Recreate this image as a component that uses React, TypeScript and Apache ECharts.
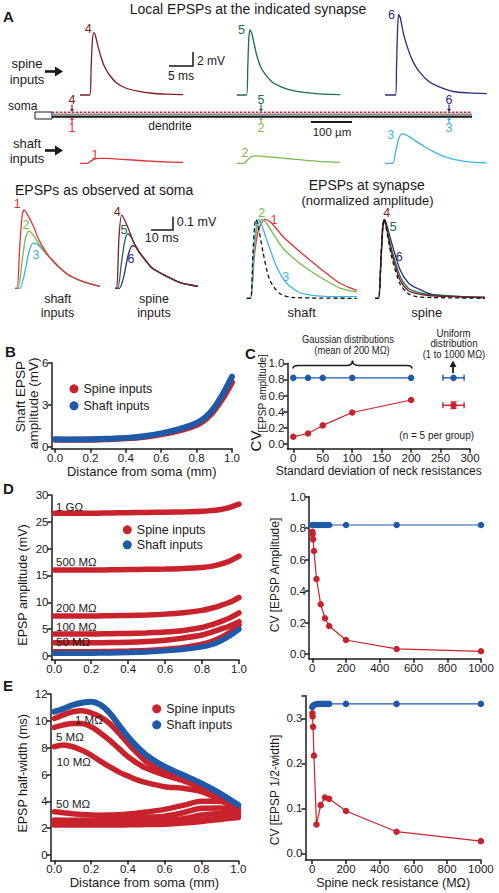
import React, { useEffect, useRef } from 'react';
import * as echarts from 'echarts';

const FONT = '"Liberation Sans", Arial, Helvetica, sans-serif';
const INK = '#1a1a1a';
const RED = '#c8232c';
const BLUE = '#1f5aa8';
const C_DARKRED = '#7d1c22';
const C_DARKGREEN = '#1b6b4c';
const C_NAVY = '#2a2c7c';
const C_RED = '#e2323a';
const C_GREEN = '#7abb4c';
const C_LIGHTBLUE = '#3db3e3';

// ---------- Panel A: local EPSPs at synapse (time ms, mV) ----------
const spine4T = [0, 2.05, 2.3, 2.55, 2.85, 3.2, 3.7, 4.3, 5.0, 6.0, 7.5, 9.5, 12, 15, 18, 21.5];
const spine4V = [0, 0, 3.5, 7.5, 8.9, 8.5, 7.1, 5.6, 4.2, 3.0, 1.8, 1.0, 0.55, 0.25, 0.12, 0.05];
const spine5T = [0, 2.05, 2.3, 2.5, 2.75, 3.1, 3.6, 4.2, 5.0, 6.0, 7.5, 9.5, 12, 15, 18, 21.5];
const spine5V = [0, 0, 3.8, 7.8, 9.3, 8.9, 7.4, 5.6, 4.0, 2.9, 1.8, 1.1, 0.6, 0.3, 0.12, 0.05];
const spine6T = [0, 2.2, 2.4, 2.6, 2.85, 3.2, 3.8, 4.5, 5.2, 6.2, 7.3, 9, 10.8, 14.2, 17.5, 21.2];
const spine6V = [0, 0, 4, 9, 11.5, 11, 8.9, 7.2, 5.8, 4.3, 3.2, 2.0, 1.3, 0.5, 0.3, 0.2];
const shaft1T = [0, 1.6, 2.2, 3.0, 4.0, 5.5, 8, 11, 14, 17, 21.5];
const shaft1V = [0, 0, 0.3, 0.6, 0.7, 0.7, 0.6, 0.47, 0.33, 0.22, 0.12];
const shaft2T = [0, 1.5, 2.2, 3.0, 4.0, 5.5, 8, 11, 14, 17, 21.5];
const shaft2V = [0, 0, 0.45, 0.9, 1.05, 1.0, 0.85, 0.65, 0.45, 0.28, 0.12];
const shaft3T = [0, 1.6, 2.2, 2.8, 3.5, 4.3, 5.3, 6.6, 8.2, 10.1, 12, 13.5, 17, 21.2];
const shaft3V = [0, 0, 1.6, 3.4, 4.2, 4.1, 3.7, 3.1, 2.4, 1.67, 1.05, 0.72, 0.25, 0.05];

// ---------- Panel A: EPSPs at soma (ms, mV) ----------
const soma1T = [0, 1.0, 2.2, 3.2, 4.1, 5.5, 8.3, 11, 15.9, 23.5, 31, 38.6];
const soma1V = [0, 0, 0.33, 0.54, 0.59, 0.56, 0.47, 0.36, 0.23, 0.11, 0.05, 0.015];
const soma2T = [0, 1.4, 3.2, 4.8, 6.4, 8.3, 11, 15.9, 23.5, 31, 38.6];
const soma2V = [0, 0, 0.2, 0.38, 0.43, 0.4, 0.33, 0.23, 0.11, 0.05, 0.015];
const soma3T = [0, 2.2, 4.2, 6.3, 8.3, 10.3, 12.5, 15.9, 23.5, 31, 38.6];
const soma3V = [0, 0, 0.1, 0.27, 0.34, 0.33, 0.29, 0.23, 0.11, 0.05, 0.015];
const soma4T = [0, 0.8, 1.8, 3.0, 4.5, 6.5, 9, 12.9, 17, 23.5, 30, 37.7];
const soma4V = [0, 0, 0.38, 0.55, 0.51, 0.43, 0.33, 0.23, 0.15, 0.09, 0.04, 0.015];
const soma5T = [0, 1.2, 3.0, 4.5, 5.8, 7.5, 9.5, 12.9, 17, 23.5, 30, 37.7];
const soma5V = [0, 0, 0.2, 0.36, 0.41, 0.38, 0.31, 0.23, 0.15, 0.09, 0.04, 0.015];
const soma6T = [0, 2.0, 4.0, 6.0, 7.9, 9.5, 11, 12.9, 17, 23.5, 30, 37.7];
const soma6V = [0, 0, 0.09, 0.25, 0.32, 0.31, 0.27, 0.23, 0.15, 0.09, 0.04, 0.015];

// ---------- Panel A: EPSPs at synapse, normalized ----------
const nDashT = [0, 1.8, 2.8, 3.6, 4.2, 5.2, 7.5, 10.5, 15, 21, 50];
const nDashV = [0, 0, 0.55, 0.92, 1.0, 0.92, 0.57, 0.23, 0.06, 0.01, 0];
const n3T = [0, 1.8, 3.0, 4.3, 5.3, 6.5, 9.1, 13.6, 18.2, 24.2, 32, 40, 50];
const n3V = [0, 0, 0.5, 0.9, 1.0, 0.95, 0.74, 0.4, 0.19, 0.07, 0.03, 0.02, 0.02];
const n2T = [0, 1.8, 3.2, 4.8, 6.8, 9, 12, 16.6, 24.2, 33.3, 42.4, 50];
const n2V = [0, 0, 0.55, 0.9, 1.0, 0.95, 0.82, 0.63, 0.44, 0.27, 0.13, 0.08];
const n1T = [0, 1.8, 3.5, 5.5, 8.3, 11, 16.6, 24.2, 33.3, 42.4, 50];
const n1V = [0, 0, 0.55, 0.88, 1.0, 0.96, 0.78, 0.59, 0.38, 0.19, 0.1];
const nsT = [0, 1.6, 2.7, 3.5, 4.2, 5.0, 7.6, 11.4, 15, 18.9, 26, 50];
const nsDashV = [0, 0, 0.5, 0.9, 1.0, 0.9, 0.52, 0.18, 0.06, 0.02, 0.01, 0];
const ns4V = [0, 0, 0.5, 0.9, 1.0, 0.92, 0.57, 0.23, 0.1, 0.06, 0.03, 0.01];
const ns5V = [0, 0, 0.5, 0.9, 1.0, 0.94, 0.62, 0.28, 0.13, 0.08, 0.04, 0.01];
const ns6V = [0, 0, 0.45, 0.85, 1.0, 0.96, 0.7, 0.36, 0.2, 0.13, 0.05, 0.01];

// ---------- Panel B / D-left: amplitude vs distance ----------
const distAmp = [0, 0.1, 0.2, 0.3, 0.4, 0.5, 0.6, 0.7, 0.8, 0.85, 0.9, 0.95, 1.0];
const shaftAmp = [0.53, 0.52, 0.53, 0.57, 0.63, 0.75, 0.95, 1.25, 1.7, 2.1, 2.8, 3.8, 5.0];
const spineAmpB = [0.5, 0.5, 0.5, 0.54, 0.6, 0.7, 0.88, 1.15, 1.55, 1.95, 2.6, 3.5, 4.6];
const amp1G = [26.6, 26.6, 26.6, 26.65, 26.7, 26.75, 26.8, 26.85, 26.95, 27.1, 27.3, 27.7, 28.3];
const amp500M = [16.0, 16.0, 16.0, 16.05, 16.1, 16.15, 16.2, 16.3, 16.5, 16.7, 17.1, 17.7, 18.6];
const amp200M = [7.45, 7.45, 7.45, 7.5, 7.55, 7.65, 7.8, 8.05, 8.5, 8.9, 9.4, 10.0, 10.9];
const amp100M = [4.1, 4.1, 4.1, 4.15, 4.2, 4.3, 4.45, 4.75, 5.3, 5.8, 6.4, 7.1, 8.05];
const amp50M = [2.45, 2.45, 2.45, 2.5, 2.55, 2.7, 2.95, 3.35, 3.9, 4.4, 5.0, 5.6, 6.4];
const amp10M = [0.8, 0.8, 0.8, 0.85, 0.9, 1.0, 1.25, 1.6, 2.2, 2.7, 3.4, 4.4, 5.8];
const ampLabels = ['1 GΩ', '500 MΩ', '200 MΩ', '100 MΩ', '50 MΩ'];

// ---------- Panel C ----------
const sdValues = [0, 25, 50, 100, 200];
const cvShaftC = [0.82, 0.82, 0.82, 0.82, 0.82];
const cvSpineC = [0.09, 0.13, 0.23, 0.39, 0.545];
const uniformX = 272;
const uniformXErr = 18;
const uniformShaftCV = 0.82;
const uniformSpineCV = 0.48;
const uniformSpineErr = 0.04;

// ---------- Panel D-right / E-right ----------
const neckR = [1, 2, 5, 10, 25, 50, 75, 100, 200, 500, 1000];
const neckRShaft = [0, 6, 20, 36, 52, 69, 85, 100, 200, 500, 1000];
const cvAmpSpine = [0.777, 0.761, 0.729, 0.655, 0.477, 0.316, 0.227, 0.178, 0.089, 0.032, 0.017];
const cvAmpShaft = [0.82, 0.82, 0.82, 0.82, 0.82, 0.82, 0.82, 0.82, 0.82, 0.82, 0.82];
const cvHwSpine = [0.311, 0.304, 0.281, 0.217, 0.064, 0.107, 0.124, 0.121, 0.094, 0.048, 0.027];
const cvHwShaft = [0.325, 0.329, 0.331, 0.332, 0.332, 0.332, 0.332, 0.332, 0.332, 0.332, 0.332];

// ---------- Panel E-left: half-width vs distance ----------
const distHw = [0, 0.05, 0.1, 0.15, 0.2, 0.25, 0.3, 0.35, 0.4, 0.45, 0.5, 0.6, 0.7, 0.8, 0.9, 1.0];
const hwShaft = [10.68, 10.9, 11.18, 11.35, 11.42, 11.2, 10.6, 9.7, 8.82, 8.07, 7.45, 6.58, 5.96, 5.34, 4.6, 3.73];
const hw1M = [10.18, 10.45, 10.68, 10.75, 10.6, 10.3, 9.81, 9.1, 8.32, 7.6, 6.95, 6.2, 5.71, 5.09, 4.34, 3.6];
const hw5M = [9.51, 9.7, 9.81, 9.81, 9.56, 9.1, 8.57, 7.95, 7.33, 6.85, 6.46, 5.96, 5.54, 4.97, 4.22, 3.48];
const hw10M = [8.07, 8.2, 8.07, 7.8, 7.45, 7.0, 6.58, 6.2, 5.89, 5.6, 5.39, 5.09, 4.97, 4.72, 4.1, 3.35];
const hw50M = [3.23, 3.15, 3.08, 3.02, 2.98, 2.97, 2.98, 3.0, 3.05, 3.12, 3.2, 3.4, 3.7, 4.0, 4.0, 3.35];
const hw100M = [2.61, 2.6, 2.6, 2.6, 2.6, 2.62, 2.64, 2.67, 2.73, 2.78, 2.82, 2.9, 3.15, 3.48, 3.5, 3.1];
const hw200M = [2.41, 2.41, 2.41, 2.41, 2.41, 2.42, 2.43, 2.45, 2.47, 2.5, 2.52, 2.56, 2.7, 2.98, 3.1, 3.0];
const hw500M = [2.31, 2.3, 2.3, 2.3, 2.3, 2.3, 2.3, 2.31, 2.32, 2.33, 2.34, 2.36, 2.45, 2.6, 2.75, 2.85];
const hw1G = [2.24, 2.24, 2.24, 2.24, 2.24, 2.24, 2.24, 2.24, 2.25, 2.26, 2.27, 2.3, 2.38, 2.5, 2.65, 2.8];
const hwLabels = ['1 MΩ', '5 MΩ', '10 MΩ', '50 MΩ'];

const BRACE_D = 'M0,4 Q0,1 5,1 L53.5,1 Q59.5,1 59.5,-4 Q59.5,1 65.5,1 L114,1 Q119,1 119,4';

const pairs = (xs: number[], ys: number[]) => xs.map((x, i) => [x, ys[i]]);

function txt(x: number, y: number, text: string, o: any = {}) {
  return {
    type: 'text', x, y, rotation: o.rot || 0, scaleX: o.sx || 1, silent: true, z: 50,
    style: {
      text, fill: o.color || INK, fontSize: o.size || 12, fontFamily: FONT,
      fontWeight: o.weight || 'normal', align: o.align || 'left', verticalAlign: 'middle',
    },
  };
}
function seg(x1: number, y1: number, x2: number, y2: number, color = INK, w = 1.5, dash?: number[]) {
  return { type: 'line', silent: true, z: 40, shape: { x1, y1, x2, y2 }, style: { stroke: color, lineWidth: w, lineDash: dash } };
}
function poly(points: number[][], color = INK) {
  return { type: 'polygon', silent: true, z: 40, shape: { points }, style: { fill: color } };
}

function buildOption() {
  const grids: any[] = [];
  const xAxes: any[] = [];
  const yAxes: any[] = [];
  const series: any[] = [];

  const hiddenGrid = (left: number, baseline: number, pxX: number, pxY: number, xMax: number, yMax: number) => {
    const i = grids.length;
    grids.push({ left, top: baseline - yMax * pxY, width: xMax * pxX, height: yMax * pxY });
    xAxes.push({ type: 'value', gridIndex: i, min: 0, max: xMax, show: false });
    yAxes.push({ type: 'value', gridIndex: i, min: 0, max: yMax, show: false });
    return i;
  };
  const trace = (gi: number, t: number[], v: number[], color: string, dashed = false, w = 1.3) => {
    series.push({
      type: 'line', xAxisIndex: gi, yAxisIndex: gi, data: pairs(t, v), symbol: 'none', smooth: 0.25,
      clip: false, silent: true, z: dashed ? 6 : 4,
      lineStyle: { color: dashed ? '#111' : color, width: w, type: dashed ? [4, 3] : 'solid' },
    });
  };

  // local EPSPs
  const gS4 = hiddenGrid(80, 95, 4.8, 7, 21.5, 12);
  const gS5 = hiddenGrid(236.7, 95, 4.8, 7, 21.5, 12);
  const gS6 = hiddenGrid(385, 95, 4.8, 7, 21.5, 12);
  const gH1 = hiddenGrid(80, 163.3, 4.8, 7, 21.5, 5);
  const gH2 = hiddenGrid(236.7, 163.3, 4.8, 7, 21.5, 5);
  const gH3 = hiddenGrid(385, 163.3, 4.8, 7, 21.5, 5);
  trace(gS4, spine4T, spine4V, C_DARKRED);
  trace(gS5, spine5T, spine5V, C_DARKGREEN);
  trace(gS6, spine6T, spine6V, C_NAVY);
  trace(gH1, shaft1T, shaft1V, C_RED);
  trace(gH2, shaft2T, shaft2V, C_GREEN);
  trace(gH3, shaft3T, shaft3V, C_LIGHTBLUE);
  // soma
  const gSomaH = hiddenGrid(15, 288.3, 2.2, 133, 38.6, 0.7);
  const gSomaS = hiddenGrid(115, 288.3, 2.2, 133, 37.7, 0.7);
  trace(gSomaH, soma3T, soma3V, C_LIGHTBLUE);
  trace(gSomaH, soma2T, soma2V, C_GREEN);
  trace(gSomaH, soma1T, soma1V, C_RED);
  trace(gSomaS, soma6T, soma6V, C_NAVY);
  trace(gSomaS, soma5T, soma5V, C_DARKGREEN);
  trace(gSomaS, soma4T, soma4V, C_DARKRED);
  // normalized
  const gNH = hiddenGrid(246.7, 298.3, 2.2, 79, 50, 1.1);
  const gNS = hiddenGrid(375, 298.3, 2.2, 79, 50.8, 1.1);
  trace(gNH, n1T, n1V, C_RED);
  trace(gNH, n2T, n2V, C_GREEN);
  trace(gNH, n3T, n3V, C_LIGHTBLUE);
  trace(gNH, nDashT, nDashV, INK, true);
  trace(gNS, nsT, ns6V, C_NAVY);
  trace(gNS, nsT, ns5V, C_DARKGREEN);
  trace(gNS, nsT, ns4V, C_DARKRED);
  trace(gNS, nsT, nsDashV, INK, true);

  // data panels
  const nameStyle = (name: string, gap: number, size = 13) => ({
    name, nameLocation: 'middle', nameGap: gap,
    nameTextStyle: { fontSize: size, color: INK, fontFamily: FONT },
  });
  const valAxis = (gi: number, min: number, max: number, ticks: number[], labels: number[], fmt: (v: number) => string, extra: any = {}) => ({
    type: 'value', gridIndex: gi, min, max, splitLine: { show: false },
    axisLine: { show: true, onZero: false, lineStyle: { color: INK, width: 1.5 } },
    axisTick: { show: true, length: 4, customValues: ticks, lineStyle: { color: INK, width: 1.5 } },
    axisLabel: { customValues: labels, formatter: fmt, fontSize: 11.5, color: INK, fontFamily: FONT, margin: 3 },
    ...extra,
  });
  const dataGrid = (left: number, top: number, width: number, height: number) => {
    grids.push({ left, top, width, height });
    return grids.length - 1;
  };
  const f1 = (v: number) => v.toFixed(1);
  const f0 = (v: number) => String(Math.round(v));
  const dist = [0, 0.2, 0.4, 0.6, 0.8, 1];
  const band = (gi: number, name: string, color: string, xs: number[], ys: number[], w: number, z = 3) =>
    series.push({
      type: 'line', name, xAxisIndex: gi, yAxisIndex: gi, data: pairs(xs, ys), symbol: 'none', smooth: 0.3,
      clip: false, silent: true, z, lineStyle: { color, width: w, cap: 'round' }, itemStyle: { color },
    });
  const dotLine = (gi: number, name: string, color: string, xs: number[], ys: number[], z = 3) =>
    series.push({
      type: 'line', name, xAxisIndex: gi, yAxisIndex: gi, data: pairs(xs, ys), symbol: 'circle', symbolSize: 6.5,
      showSymbol: true, clip: false, silent: true, z, lineStyle: { color, width: 1.2 }, itemStyle: { color },
    });

  // B
  const gB = dataGrid(51.5, 362.7, 180.5, 86.1);
  xAxes.push(valAxis(gB, -0.02, 1, dist, dist, f1, nameStyle('Distance from soma (mm)', 16)));
  yAxes.push(valAxis(gB, -0.15, 6, [0, 3, 6], [0, 3, 6], f0));
  band(gB, 'Spine inputs', RED, distAmp, spineAmpB, 6);
  band(gB, 'Shaft inputs', BLUE, distAmp, shaftAmp, 6, 4);

  // C
  const gC = dataGrid(287.4, 363.3, 182.6, 85.5);
  const cx = [0, 50, 100, 150, 200, 250, 300];
  const cy = [0, 0.2, 0.4, 0.6, 0.8, 1];
  xAxes.push(valAxis(gC, -10, 300, cx, cx, f0, nameStyle('Standard deviation of neck resistances', 16, 12)));
  yAxes.push(valAxis(gC, -0.06, 1, cy, cy, f1));
  dotLine(gC, 'Shaft CV', BLUE, sdValues, cvShaftC);
  dotLine(gC, 'Spine CV', RED, sdValues, cvSpineC);
  const errRender = (color: string) => (params: any, api: any) => {
    const x = api.value(0), y = api.value(1), ex = api.value(2), ey = api.value(3);
    const c = api.coord([x, y]);
    const l = api.coord([x - ex, y]);
    const r = api.coord([x + ex, y]);
    const st = { stroke: color, lineWidth: 1.4 };
    const kids: any[] = [
      { type: 'line', shape: { x1: l[0], y1: l[1], x2: r[0], y2: r[1] }, style: st },
      { type: 'line', shape: { x1: l[0], y1: l[1] - 3, x2: l[0], y2: l[1] + 3 }, style: st },
      { type: 'line', shape: { x1: r[0], y1: r[1] - 3, x2: r[0], y2: r[1] + 3 }, style: st },
      { type: 'circle', shape: { cx: c[0], cy: c[1], r: 3.3 }, style: { fill: color } },
    ];
    if (ey > 0) {
      const t = api.coord([x, y + ey]);
      const b = api.coord([x, y - ey]);
      kids.push(
        { type: 'line', shape: { x1: t[0], y1: t[1], x2: b[0], y2: b[1] }, style: st },
        { type: 'line', shape: { x1: t[0] - 3, y1: t[1], x2: t[0] + 3, y2: t[1] }, style: st },
        { type: 'line', shape: { x1: b[0] - 3, y1: b[1], x2: b[0] + 3, y2: b[1] }, style: st },
      );
    }
    return { type: 'group', children: kids };
  };
  series.push({ type: 'custom', xAxisIndex: gC, yAxisIndex: gC, silent: true, z: 4, renderItem: errRender(BLUE), data: [[uniformX, uniformShaftCV, uniformXErr, 0]] });
  series.push({ type: 'custom', xAxisIndex: gC, yAxisIndex: gC, silent: true, z: 4, renderItem: errRender(RED), data: [[uniformX, uniformSpineCV, uniformXErr, uniformSpineErr]] });

  // D left
  const gDL = dataGrid(51.5, 495, 187.5, 165);
  const dY = [0, 5, 10, 15, 20, 25, 30];
  xAxes.push(valAxis(gDL, -0.015, 1, dist, dist, f1));
  yAxes.push(valAxis(gDL, -0.75, 30, dY, dY, f0));
  band(gDL, 'Spine inputs', RED, distAmp, amp10M, 5.5);
  band(gDL, 'Spine inputs', RED, distAmp, amp50M, 5.5);
  band(gDL, 'Spine inputs', RED, distAmp, amp100M, 5.5);
  band(gDL, 'Spine inputs', RED, distAmp, amp200M, 5.5);
  band(gDL, 'Spine inputs', RED, distAmp, amp500M, 5.5);
  band(gDL, 'Spine inputs', RED, distAmp, amp1G, 5.5);
  band(gDL, 'Shaft inputs', BLUE, distAmp, shaftAmp, 5.5, 4);

  // D right
  const gDR = dataGrid(308.9, 496.7, 172.1, 162);
  const rx = [0, 200, 400, 600, 800, 1000];
  xAxes.push(valAxis(gDR, -20, 1000, rx, rx, f0));
  yAxes.push(valAxis(gDR, -0.03, 1, cy, cy, f1));
  dotLine(gDR, 'Shaft CV amp', BLUE, neckRShaft, cvAmpShaft);
  dotLine(gDR, 'Spine CV amp', RED, neckR, cvAmpSpine);

  // E left
  const gEL = dataGrid(50.6, 694, 187.7, 166.4);
  const eY = [0, 2, 4, 6, 8, 10, 12];
  xAxes.push(valAxis(gEL, -0.02, 1, dist, dist, f1, nameStyle('Distance from soma (mm)', 16)));
  yAxes.push(valAxis(gEL, -0.4, 12, eY, eY, f0));
  [hw1G, hw500M, hw200M, hw100M, hw50M, hw10M, hw5M, hw1M].forEach((ys) =>
    band(gEL, 'Spine inputs', RED, distHw, ys, 5.5));
  band(gEL, 'Shaft inputs', BLUE, distHw, hwShaft, 6, 4);

  // E right
  const gER = dataGrid(305.5, 695.8, 175.4, 164.25);
  xAxes.push(valAxis(gER, -40, 1000, rx, rx, f0, nameStyle('Spine neck resistance (MΩ)', 16, 12.5)));
  yAxes.push(valAxis(gER, -0.015, 0.35, [0, 0.1, 0.2, 0.3, 0.35], [0, 0.1, 0.2, 0.3], f1));
  dotLine(gER, 'Shaft CV hw', BLUE, neckRShaft, cvHwShaft);
  dotLine(gER, 'Spine CV hw', RED, neckR, cvHwSpine);

  const legendAt = (left: number, top: number, gap: number) => ({
    left, top, orient: 'vertical', icon: 'circle', itemWidth: 9, itemHeight: 9, itemGap: gap, padding: 0,
    selectedMode: false, data: ['Spine inputs', 'Shaft inputs'],
    textStyle: { fontSize: 12.5, lineHeight: 12, color: INK, fontFamily: FONT },
  });

  const R90 = Math.PI / 2;
  const elements: any[] = [
    // Panel A top
    txt(3, 16, 'A', { size: 15, weight: 'bold' }),
    txt(248, 9, 'Local EPSPs at the indicated synapse', { size: 14, align: 'center' }),
    txt(27, 63, 'spine', { size: 13, align: 'center' }),
    txt(27, 79, 'inputs', { size: 13, align: 'center' }),
    txt(27, 143, 'shaft', { size: 13, align: 'center' }),
    txt(27, 158, 'inputs', { size: 13, align: 'center' }),
    seg(45, 71.5, 56, 71.5, INK, 2.6), poly([[55, 66.5], [63, 71.5], [55, 76.5]]),
    seg(45, 150.5, 56, 150.5, INK, 2.6), poly([[55, 145.5], [63, 150.5], [55, 155.5]]),
    txt(8, 106, 'soma', { size: 12 }),
    { type: 'rect', silent: true, z: 40, shape: { x: 35, y: 112, width: 17, height: 7 }, style: { fill: '#fff', stroke: INK, lineWidth: 1 } },
    seg(52, 114.6, 472, 114.6, '#8a8a8a', 2),
    seg(52, 116.8, 472, 116.8, INK, 2),
    seg(52, 112.2, 472, 112.2, '#c8333a', 1.6, [2.5, 1.5]),
    txt(170, 126, 'dendrite', { size: 12, align: 'center' }),
    seg(311, 122, 352, 122, INK, 2),
    txt(332, 131.5, '100 µm', { size: 11.5, align: 'center' }),
    { type: 'polyline', silent: true, z: 40, shape: { points: [[169, 66], [193, 66], [193, 52]] }, style: { stroke: INK, lineWidth: 1.5, fill: null } },
    txt(197, 60.5, '2 mV', { size: 12 }),
    txt(181, 76, '5 ms', { size: 12, align: 'center' }),
    txt(88.3, 28.5, '4', { size: 12.5, align: 'center', color: C_DARKRED }),
    txt(241.5, 29.5, '5', { size: 12.5, align: 'center', color: C_DARKGREEN }),
    txt(391.5, 14.5, '6', { size: 12.5, align: 'center', color: C_NAVY }),
    txt(95, 154.5, '1', { size: 12.5, align: 'center', color: C_RED }),
    txt(245, 153, '2', { size: 12.5, align: 'center', color: C_GREEN }),
    txt(390.7, 135, '3', { size: 12.5, align: 'center', color: C_LIGHTBLUE }),
  ];
  const markers: [number, string, string, string, string][] = [
    [72, '4', C_DARKRED, '1', C_RED],
    [261, '5', C_DARKGREEN, '2', C_GREEN],
    [449, '6', C_NAVY, '3', C_LIGHTBLUE],
  ];
  markers.forEach(([x, t1, c1, t2, c2]) => {
    elements.push(
      txt(x, 99.5, t1, { size: 12.5, align: 'center', color: c1 }),
      seg(x, 104.5, x, 109.5, c1, 1.2), poly([[x - 2, 109], [x + 2, 109], [x, 112]], c1),
      txt(x, 128.3, t2, { size: 12.5, align: 'center', color: c2 }),
      seg(x, 123, x, 119.5, c2, 1.2), poly([[x - 2, 120], [x + 2, 120], [x, 117]], c2),
    );
  });
  elements.push(
    // lower A
    txt(15, 190, 'EPSPs as observed at soma', { size: 14 }),
    txt(17.3, 203.5, '1', { size: 12.5, align: 'center', color: C_RED }),
    txt(26, 225, '2', { size: 12.5, align: 'center', color: C_GREEN }),
    txt(36, 255, '3', { size: 12.5, align: 'center', color: C_LIGHTBLUE }),
    txt(57.7, 299.3, 'shaft', { size: 12.5, align: 'center' }),
    txt(57.5, 312.5, 'inputs', { size: 12.5, align: 'center' }),
    txt(117.3, 211.7, '4', { size: 12.5, align: 'center', color: C_DARKRED }),
    txt(124, 230, '5', { size: 12.5, align: 'center', color: C_DARKGREEN }),
    txt(131, 259.3, '6', { size: 12.5, align: 'center', color: C_NAVY }),
    txt(154, 299.3, 'spine', { size: 12.5, align: 'center' }),
    txt(154, 312.5, 'inputs', { size: 12.5, align: 'center' }),
    { type: 'polyline', silent: true, z: 40, shape: { points: [[151, 230], [173, 230], [173, 216.7]] }, style: { stroke: INK, lineWidth: 1.5, fill: null } },
    txt(176.7, 221.7, '0.1 mV', { size: 12.5 }),
    txt(161.7, 238.3, '10 ms', { size: 12.5, align: 'center' }),
    txt(366.7, 185, 'EPSPs at synapse', { size: 14, align: 'center' }),
    txt(367.5, 200, '(normalized amplitude)', { size: 13, align: 'center' }),
    txt(261.7, 212.7, '2', { size: 12.5, align: 'center', color: C_GREEN }),
    txt(274, 220, '1', { size: 12.5, align: 'center', color: C_RED }),
    txt(285.7, 277.3, '3', { size: 12.5, align: 'center', color: C_LIGHTBLUE }),
    txt(386.7, 213.3, '4', { size: 12.5, align: 'center', color: C_DARKRED }),
    txt(393.3, 227.3, '5', { size: 12.5, align: 'center', color: C_DARKGREEN }),
    txt(399.3, 257.3, '6', { size: 12.5, align: 'center', color: C_NAVY }),
    txt(301.7, 312, 'shaft', { size: 13, align: 'center' }),
    txt(426.7, 312, 'spine', { size: 13, align: 'center' }),
    // B / C
    txt(5, 351, 'B', { size: 15, weight: 'bold' }),
    txt(245, 353, 'C', { size: 15, weight: 'bold' }),
    txt(20, 396.7, 'Shaft EPSP', { size: 13.5, align: 'center', rot: R90 }),
    txt(33.3, 403.3, 'amplitude (mV)', { size: 13.5, align: 'center', rot: R90 }),
    txt(348, 339, 'Gaussian distributions', { size: 11, align: 'center', sx: 0.85 }),
    txt(352, 350.5, '(mean of 200 MΩ)', { size: 11, align: 'center', sx: 0.85 }),
    txt(453.5, 332.5, 'Uniform', { size: 11.5, align: 'center', sx: 0.85 }),
    txt(454, 342.5, 'distribution', { size: 11.5, align: 'center', sx: 0.85 }),
    txt(454, 354, '(1 to 1000 MΩ)', { size: 11, align: 'center', sx: 0.85 }),
    { type: 'brace', x: 293, y: 364.5, silent: true, z: 40, style: { stroke: INK, fill: null, lineWidth: 1.6 } },
    seg(453, 373, 453, 366, INK, 1.8), poly([[449.5, 367], [456.5, 367], [453, 360.5]]),
    txt(436.7, 434.3, '(n = 5 per group)', { size: 11.5, align: 'center', sx: 0.87 }),
    txt(255.8, 441, 'CV', { size: 15, align: 'center', rot: R90 }),
    txt(262.5, 393.3, '[EPSP amplitude]', { size: 10, align: 'center', rot: R90 }),
    // D
    txt(3, 488, 'D', { size: 15, weight: 'bold' }),
    txt(23.3, 585, 'EPSP amplitude (mV)', { size: 12.5, align: 'center', rot: R90 }),
    txt(275, 575, 'CV [EPSP Amplitude]', { size: 12, align: 'center', rot: R90 }),
    // E
    txt(3, 685, 'E', { size: 15, weight: 'bold' }),
    txt(23.3, 773.3, 'EPSP half-width (ms)', { size: 12.5, align: 'center', rot: R90 }),
    txt(275, 790, 'CV [EPSP 1/2-width]', { size: 12, align: 'center', rot: R90 }),
  );
  const ampLabelY = [506.5, 561.7, 608.3, 626.7, 641.7];
  ampLabels.forEach((l, i) => elements.push(txt(56, ampLabelY[i], l, { size: 11.5 })));
  const hwLabelPos = [[75, 720], [56, 736.7], [56.7, 761.7], [56, 804.3]];
  hwLabels.forEach((l, i) => elements.push(txt(hwLabelPos[i][0], hwLabelPos[i][1], l, { size: 11.5 })));

  return {
    animation: false,
    backgroundColor: '#ffffff',
    textStyle: { fontFamily: FONT },
    grid: grids,
    xAxis: xAxes,
    yAxis: yAxes,
    legend: [legendAt(69.5, 382.3, 4), legendAt(122.8, 523.3, 2), legendAt(152.2, 702.3, 3)],
    series,
    graphic: { elements },
  };
}

export default function App() {
  const ref = useRef<HTMLDivElement>(null);
  useEffect(() => {
    if (!ref.current) return;
    try {
      echarts.graphic.registerShape('brace', echarts.graphic.extendPath(BRACE_D, {}));
    } catch (e) {
      /* already registered */
    }
    const chart = echarts.init(ref.current, null, { renderer: 'svg' });
    chart.setOption(buildOption() as any);
    return () => chart.dispose();
  }, []);
  return (
    <div
      ref={ref}
      style={{ position: 'absolute', left: 0, top: 0, width: 499, height: 893, background: '#fff' }}
    />
  );
}
